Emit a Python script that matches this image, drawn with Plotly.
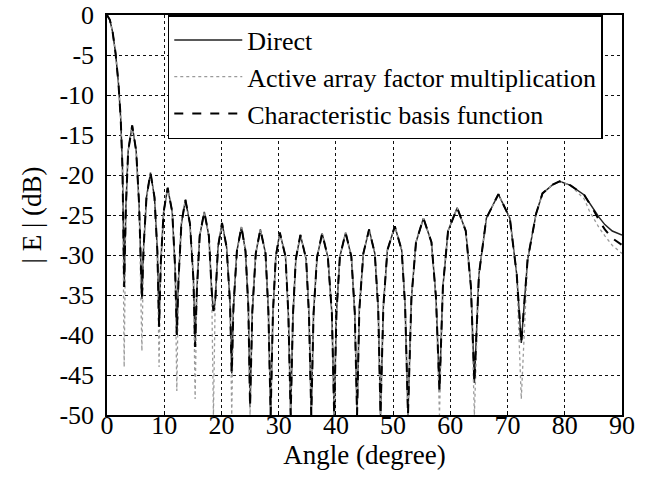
import plotly.graph_objects as go

ANGLE = [
    0, 0.5, 1.0, 1.5, 2.0, 2.4, 2.7, 3.0,
    3.3, 3.7, 4.4, 5.1, 5.6, 6.1,
    6.4, 6.9, 7.6, 8.3, 8.8, 9.1,
    9.4, 9.9, 10.6, 11.4, 11.9, 12.2,
    12.5, 13.0, 13.7, 14.5, 15.1, 15.4,
    15.7, 16.2, 17.0, 17.8, 18.3, 18.6,
    18.9, 19.4, 20.1, 20.9, 21.5, 21.8,
    22.1, 22.7, 23.5, 24.2, 24.7, 25.0,
    25.4, 26.0, 26.8, 27.7, 28.2, 28.6,
    29.0, 29.5, 30.2, 31.2, 31.7, 32.1,
    32.5, 33.0, 33.8, 34.8, 35.3, 35.7,
    36.1, 36.7, 37.6, 38.6, 39.3, 39.7,
    40.1, 40.7, 41.7, 42.7, 43.3, 43.7,
    44.1, 44.8, 45.8, 46.8, 47.4, 47.8,
    48.3, 49.0, 50.3, 51.5, 52.1, 52.6,
    53.2, 54.0, 55.3, 56.7, 57.5, 58.1,
    58.7, 59.6, 61.2, 62.7, 63.6, 64.2,
    65.0, 66.3, 68.4, 70.4, 71.6, 72.4,
    73.5, 75.0, 76.1, 77.9, 79.1, 81.0, 83.4, 84.3, 85.2, 86.0, 87.0, 88.3, 90.0,
]

DIRECT_DB = [
    0, -0.6, -2.2, -4.8, -8.5, -13, -19, -34,
    -24, -17, -13.8, -17, -23.5, -35.5,
    -29, -22.8, -19.7, -22.8, -29.5, -39,
    -31, -24.6, -21.6, -24.6, -31.5, -40,
    -33, -26.1, -23.1, -26.1, -33, -41.5,
    -34.5, -27.6, -24.6, -27.6, -34.5, -37,
    -36, -29, -26, -29, -36, -44.8,
    -36.5, -29.5, -26.5, -29.5, -36.5, -49,
    -37, -29.8, -26.8, -29.8, -37, -50,
    -37.2, -30.2, -27.2, -30.2, -37.5, -50,
    -37.5, -30.5, -27.5, -30.5, -37.5, -50,
    -37.3, -30.3, -27.3, -30.3, -37.3, -50,
    -37.2, -30.2, -27.2, -30.2, -37.2, -50,
    -36.8, -29.8, -26.8, -29.8, -36.8, -50,
    -36.4, -29.4, -26.4, -29.4, -36.4, -50,
    -35.4, -28.4, -25.4, -28.4, -35.4, -47,
    -34, -27, -24.1, -27, -34, -46,
    -32.4, -25.4, -22.4, -25.4, -32.4, -41,
    -30.6, -24.8, -22.3, -21.2, -20.8, -21.3, -22.5, -23.5, -24.4, -25.3, -26.2, -27.0, -27.5,
]

ACTIVE_DB = [
    0, -0.6, -2.2, -4.8, -8.5, -13, -19, -44,
    -24, -17, -13.8, -17, -23.5, -42,
    -29, -22.8, -19.7, -22.8, -29.5, -44,
    -31, -24.6, -21.6, -24.6, -31.5, -47,
    -33, -26.1, -23.1, -26.1, -33, -48,
    -34.5, -27.6, -24.6, -27.6, -34.5, -50,
    -36, -29, -26, -29, -36, -50,
    -36.5, -29.5, -26.5, -29.5, -36.5, -50,
    -37, -29.8, -26.8, -29.8, -37, -50,
    -37.2, -30.2, -27.2, -30.2, -37.5, -50,
    -37.5, -30.5, -27.5, -30.5, -37.5, -50,
    -37.3, -30.3, -27.3, -30.3, -37.3, -50,
    -37.2, -30.2, -27.2, -30.2, -37.2, -50,
    -36.8, -29.8, -26.8, -29.8, -36.8, -50,
    -36.4, -29.4, -26.4, -29.4, -36.4, -50,
    -35.4, -28.4, -25.4, -28.4, -35.4, -50,
    -34, -27, -24.1, -27, -34, -50,
    -32.4, -25.4, -22.4, -25.4, -32.4, -48,
    -30.6, -24.8, -22.3, -21.2, -20.8, -21.3, -23.0, -24.5, -25.6, -26.6, -27.6, -28.8, -29.8,
]

CBF_DB = [
    0, -0.6, -2.2, -4.8, -8.5, -13, -19, -34,
    -24, -17, -13.8, -17, -23.5, -35.5,
    -29, -22.8, -19.7, -22.8, -29.5, -39,
    -31, -24.6, -21.6, -24.6, -31.5, -40,
    -33, -26.1, -23.1, -26.1, -33, -41.5,
    -34.5, -27.6, -24.6, -27.6, -34.5, -37,
    -36, -29, -26, -29, -36, -44.8,
    -36.5, -29.5, -26.5, -29.5, -36.5, -49,
    -37, -29.8, -26.8, -29.8, -37, -50,
    -37.2, -30.2, -27.2, -30.2, -37.5, -50,
    -37.5, -30.5, -27.5, -30.5, -37.5, -50,
    -37.3, -30.3, -27.3, -30.3, -37.3, -50,
    -37.2, -30.2, -27.2, -30.2, -37.2, -50,
    -36.8, -29.8, -26.8, -29.8, -36.8, -50,
    -36.4, -29.4, -26.4, -29.4, -36.4, -50,
    -35.4, -28.4, -25.4, -28.4, -35.4, -47,
    -34, -27, -24.1, -27, -34, -46,
    -32.4, -25.4, -22.4, -25.4, -32.4, -41,
    -30.6, -24.8, -22.3, -21.2, -20.8, -21.3, -22.5, -23.5, -24.6, -25.7, -26.8, -27.9, -28.75,
]

X_TICKS = [0, 10, 20, 30, 40, 50, 60, 70, 80, 90]
X_TICKTEXT = ["0", "10", "20", "30", "40", "50", "60", "70", "80", "90"]
Y_TICKS = [0, -5, -10, -15, -20, -25, -30, -35, -40, -45, -50]
Y_TICKTEXT = ["0", "-5", "-10", "-15", "-20", "-25", "-30", "-35", "-40", "-45", "-50"]

FONT = "Liberation Serif"

fig = go.Figure()
fig.add_trace(go.Scatter(x=ANGLE, y=DIRECT_DB, mode="lines", name="Direct",
                         line=dict(color="#222222", width=1.5)))
fig.add_trace(go.Scatter(x=ANGLE, y=ACTIVE_DB, mode="lines", name="Active array factor multiplication",
                         line=dict(color="#9a9a9a", width=1.3, dash="dot")))
fig.add_trace(go.Scatter(x=ANGLE, y=CBF_DB, mode="lines", name="Characteristic basis function",
                         line=dict(color="#000000", width=2.0, dash="dash")))

axis_common = dict(
    showline=True, linecolor="black", linewidth=1.5, mirror=True,
    showgrid=True, gridcolor="#111111", gridwidth=1.3, griddash="3px,3px",
    ticks="inside", ticklen=4, tickcolor="black",
    tickfont=dict(family=FONT, size=26, color="black"),
    zeroline=False, automargin=False,
)

fig.update_layout(
    width=648, height=496,
    margin=dict(l=107, r=26, t=15, b=81),
    paper_bgcolor="white", plot_bgcolor="white",
    font=dict(family=FONT, color="black"),
    showlegend=True,
    legend=dict(
        x=0.118, y=1.0, xanchor="left", yanchor="top",
        bgcolor="white", bordercolor="black", borderwidth=1.5,
        font=dict(family=FONT, size=26, color="black"),
        itemwidth=68,
        tracegroupgap=0,
    ),
    xaxis=dict(range=[0, 90], tickvals=X_TICKS, ticktext=X_TICKTEXT,
               ticklabelstandoff=-14,
               title=dict(text="Angle (degree)", font=dict(family=FONT, size=27), standoff=2),
               **axis_common),
    yaxis=dict(range=[-50, 0], tickvals=Y_TICKS, ticktext=Y_TICKTEXT,
               ticklabelstandoff=6,
               title=dict(text="| E | (dB)", font=dict(family=FONT, size=27), standoff=10),
               **axis_common),
)

fig.write_html("out.html", config={"displayModeBar": False},
               post_script="document.body.style.margin='0px';")
